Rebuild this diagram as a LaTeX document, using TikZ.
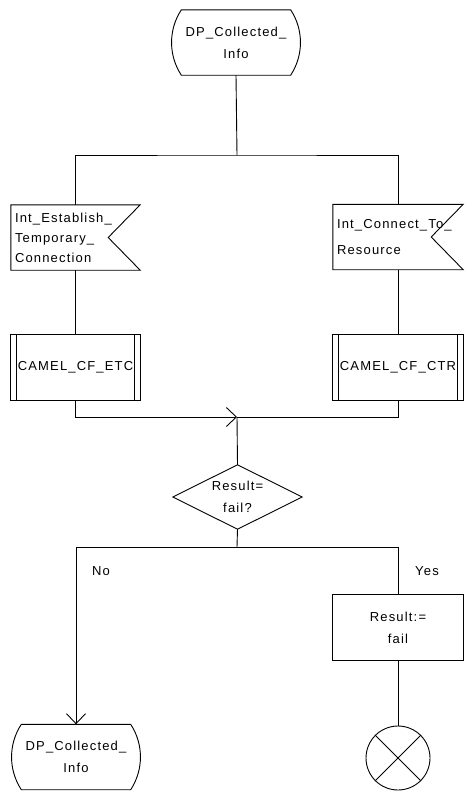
\documentclass[tikz,border=0pt]{standalone}
\usepackage{fontspec}
\setmainfont[LetterSpace=9]{Liberation Sans}
\usetikzlibrary{arrows.meta}
\begin{document}
\begin{tikzpicture}[x=1pt,y=-1pt,
  every node/.style={font=\fontsize{13}{22}\selectfont},
  line/.style={line width=0.9pt, draw=black},
  barb/.style={-{Straight Barb[length=10pt,width=19pt,line width=0.9pt]}},
  box/.style={rectangle, minimum width=129pt, minimum height=65pt, inner sep=2pt, align=center},
  sigbox/.style={rectangle, minimum width=129pt, minimum height=65pt, inner sep=4pt, text width=121pt, align=left},
  lbl/.style={font=\fontsize{13}{16}\selectfont}
]
\useasboundingbox (0,0) rectangle (469,795);

% nodes
\node[box] (start) at (236,42.5) {DP\_Collected\_\\Info};
\node[sigbox, font=\fontsize{13}{20}\selectfont] (sig1) at (75.5,237.5) {Int\_Establish\_\\Temporary\_\\Connection};
\node[sigbox, minimum width=130pt, text width=122pt, font=\fontsize{13}{26}\selectfont] (sig2) at (398,237) {Int\_Connect\_To\_\\Resource};
\node[box] (proc1) at (75.5,367.5) {CAMEL\_CF\_ETC};
\node[box, minimum width=130pt] (proc2) at (398,367.5) {CAMEL\_CF\_CTR};
\node[box, minimum height=64pt] (dec) at (237.5,497) {Result=\\fail?};
\node[box, minimum width=130pt] (res) at (398,627.5) {Result:=\\fail};
\node[box] (stop) at (76,757) {DP\_Collected\_\\Info};
\node[circle, draw, line width=0.9pt, minimum size=64pt, inner sep=0pt] (term) at (398,758) {};
\node[lbl] (no) at (101,571) {No};
\node[lbl] (yes) at (427,571) {Yes};

\coordinate (split1) at (237,155);
\coordinate (merge) at (237,417);
\coordinate (split2) at (237,547);

% outlines
\draw[line] ([xshift=10pt]start.north west) -- ([xshift=-10pt]start.north east)
  .. controls ([xshift=3pt, yshift=-20pt]start.north east) and ([xshift=3pt, yshift=20pt]start.south east) .. ([xshift=-10pt]start.south east)
  -- ([xshift=10pt]start.south west)
  .. controls ([xshift=-3pt, yshift=20pt]start.south west) and ([xshift=-3pt, yshift=-20pt]start.north west) .. cycle;
\draw[line] ([xshift=10pt]stop.north west) -- ([xshift=-10pt]stop.north east)
  .. controls ([xshift=3pt, yshift=-20pt]stop.north east) and ([xshift=3pt, yshift=20pt]stop.south east) .. ([xshift=-10pt]stop.south east)
  -- ([xshift=10pt]stop.south west)
  .. controls ([xshift=-3pt, yshift=20pt]stop.south west) and ([xshift=-3pt, yshift=-20pt]stop.north west) .. cycle;
\draw[line] (sig1.north west) -- (sig1.north east) -- ([xshift=-32pt]sig1.east) -- (sig1.south east) -- (sig1.south west) -- cycle;
\draw[line] (sig2.north west) -- (sig2.north east) -- ([xshift=-32pt]sig2.east) -- (sig2.south east) -- (sig2.south west) -- cycle;
\draw[line] (proc1.north west) rectangle (proc1.south east);
\draw[line] ([xshift=6pt]proc1.north west) -- ([xshift=6pt]proc1.south west);
\draw[line] ([xshift=-6pt]proc1.north east) -- ([xshift=-6pt]proc1.south east);
\draw[line] (proc2.north west) rectangle (proc2.south east);
\draw[line] ([xshift=6pt]proc2.north west) -- ([xshift=6pt]proc2.south west);
\draw[line] ([xshift=-6pt]proc2.north east) -- ([xshift=-6pt]proc2.south east);
\draw[line] (dec.north) -- (dec.east) -- (dec.south) -- (dec.west) -- cycle;
\draw[line] (res.north west) rectangle (res.south east);
\draw[line] (term.north west) -- (term.south east);
\draw[line] (term.north east) -- (term.south west);

% connectors
\draw[line] (start.south) -- (split1);
\draw[line] (sig1.north) |- (split1) -| (sig2.north);
\draw[line] (sig1.south) -- (proc1.north);
\draw[line] (sig2.south) -- (proc2.north);
\draw[line, barb] (proc1.south) |- (merge);
\draw[line] (proc2.south) |- (merge);
\draw[line] (merge) -- (dec.north);
\draw[line] (dec.south) -- (split2);
\draw[line, barb] (split2) -| (stop.north);
\draw[line] (split2) -| (res.north);
\draw[line] (res.south) -- (term.north);
\end{tikzpicture}
\end{document}
